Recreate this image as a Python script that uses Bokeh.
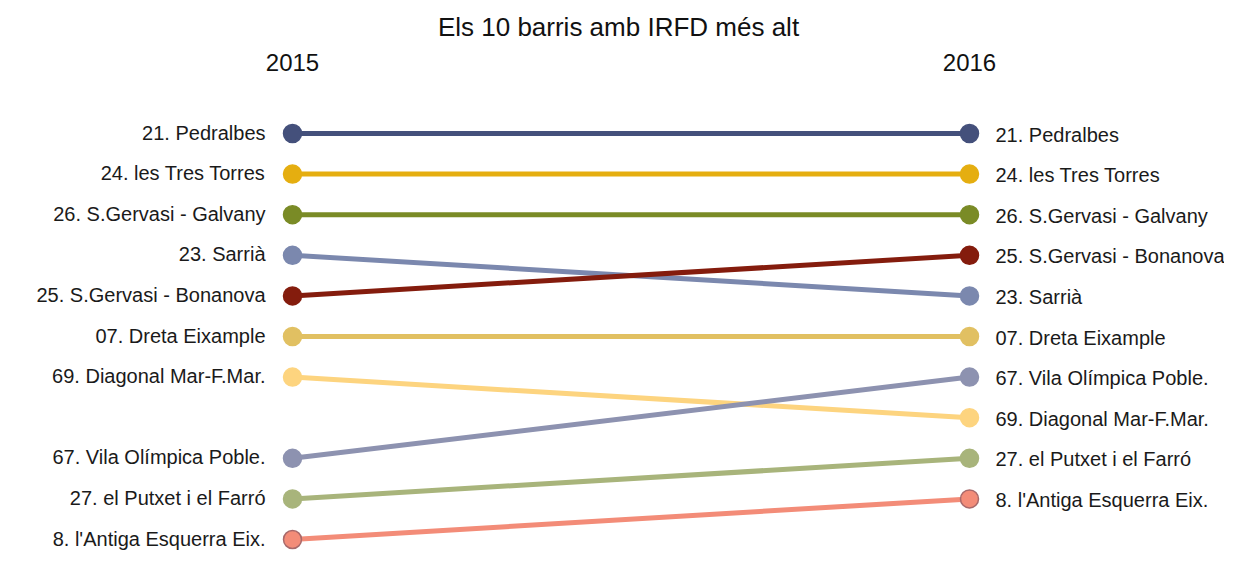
from bokeh.plotting import figure
from bokeh.models import Range1d, Label, ColumnDataSource
from bokeh.core.properties import value
from bokeh.embed import file_html
from bokeh.resources import INLINE

title_text = "Els 10 barris amb IRFD més alt"
years = [2015, 2016]
names = [
    "21. Pedralbes",
    "24. les Tres Torres",
    "26. S.Gervasi - Galvany",
    "23. Sarrià",
    "25. S.Gervasi - Bonanova",
    "07. Dreta Eixample",
    "69. Diagonal Mar-F.Mar.",
    "67. Vila Olímpica Poble.",
    "27. el Putxet i el Farró",
    "8. l'Antiga Esquerra Eix.",
]
rank_2015 = [1, 2, 3, 4, 5, 6, 7, 9, 10, 11]
rank_2016 = [1, 2, 3, 5, 4, 6, 8, 7, 9, 10]
colors = [
    "#44507B", "#E5AE10", "#7A8B26", "#7B88AE", "#841C0D",
    "#E1C062", "#FDD47F", "#8D92B0", "#A8B47B", "#F38C78",
]
outlines = [
    "#44507B", "#E5AE10", "#7A8B26", "#7B88AE", "#841C0D",
    "#E1C062", "#FDD47F", "#8D92B0", "#A8B47B", "#A8696A",
]

W, H = 1224, 551
x0_px, x1_px = 292, 969          # pixel positions of the two years
px_per_year = x1_px - x0_px
xs = years[0] - x0_px / px_per_year
xe = xs + W / px_per_year
r1_px, px_per_rank = 133, 40.6
ytop = 1 - r1_px / px_per_rank
ybot = 1 + (H - r1_px) / px_per_rank

p = figure(width=W, height=H, output_backend="svg", toolbar_location=None,
           x_range=Range1d(xs, xe), y_range=Range1d(ybot, ytop),
           min_border=0, background_fill_color="white",
           border_fill_color="white", outline_line_color=None)
p.axis.visible = False
p.grid.visible = False

src = ColumnDataSource(dict(
    x0=[years[0]] * len(names), x1=[years[1]] * len(names),
    y0=rank_2015, y1=rank_2016, name=names, color=colors, outline=outlines,
))

p.segment(x0="x0", y0="y0", x1="x1", y1="y1", line_color="color",
          line_width=5, source=src)
p.scatter(x="x0", y="y0", size=18, fill_color="color", line_color="outline",
          line_width=1.5, source=src)
p.scatter(x="x1", y="y1", size=18, fill_color="color", line_color="outline",
          line_width=1.5, source=src)

font = value("Liberation Sans")
p.text(x="x0", y="y0", text="name", source=src, text_align="right",
       text_baseline="middle", x_offset=-27, y_offset=-1,
       text_font=font, text_font_size="20px", text_color="#1a1a1a")
p.text(x="x1", y="y1", text="name", source=src, text_align="left",
       text_baseline="middle", x_offset=26, y_offset=1,
       text_font=font, text_font_size="20px", text_color="#1a1a1a")

p.add_layout(Label(x=618, y=H - 26, x_units="screen", y_units="screen",
                   text=title_text, text_align="center", text_baseline="middle",
                   text_font="Liberation Sans", text_font_size="26px",
                   text_color="#111111"))
for yr in years:
    p.add_layout(Label(x=yr, y=H - 62, y_units="screen", text=str(yr),
                       text_align="center", text_baseline="middle",
                       text_font="Liberation Sans", text_font_size="24px",
                       text_color="#111111"))

open("out.html", "w").write(file_html(p, INLINE))
